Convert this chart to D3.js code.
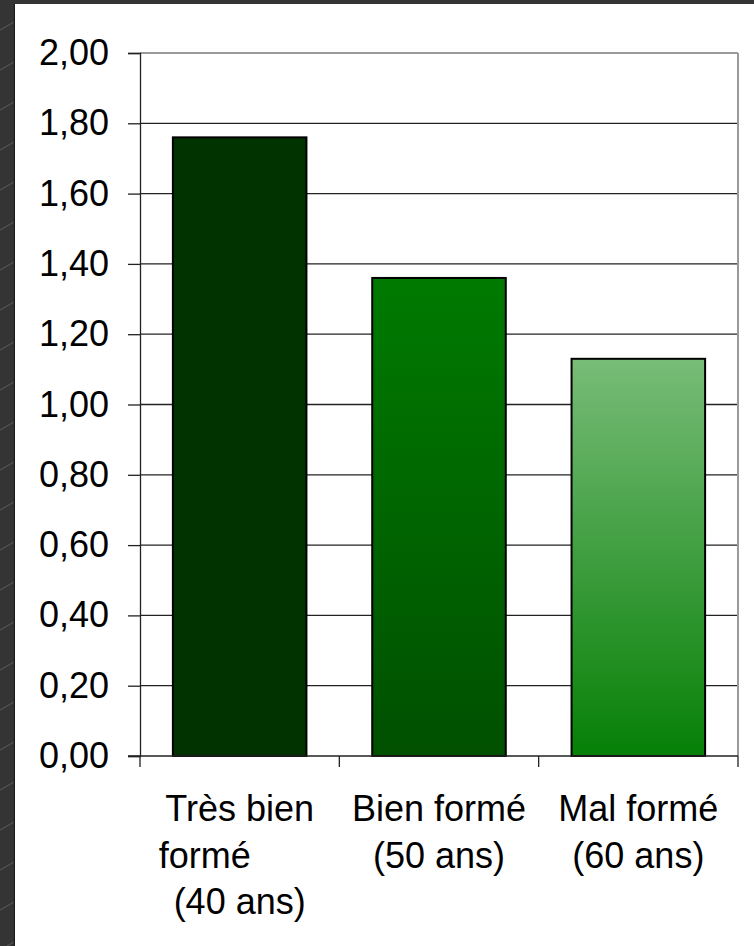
<!DOCTYPE html>
<html>
<head>
<meta charset="utf-8">
<script src="https://cdn.jsdelivr.net/npm/d3@7"></script>
<style>
  html, body { margin: 0; padding: 0; background: #333; }
  svg { display: block; }
  text { font-family: "Liberation Sans", Arial, sans-serif; fill: #000; }
</style>
</head>
<body>
<div id="chart"></div>
<script>
// data
const categories = ['Très bien formé (40 ans)', 'Bien formé (50 ans)', 'Mal formé (60 ans)']
const labelLines = [
  ['Très bien', 'formé\u00a0\u00a0\u00a0\u00a0\u00a0\u00a0\u00a0', '(40 ans)'],
  ['Bien formé', '(50 ans)'],
  ['Mal formé', '(60 ans)']
]
const values = [1.76, 1.36, 1.13]
const yTicks = [0, 0.2, 0.4, 0.6, 0.8, 1.0, 1.2, 1.4, 1.6, 1.8, 2.0]
const barTop = ['#003300', '#007a00', '#78bc78']
const barBottom = ['#003300', '#005000', '#068006']

const W = 754, H = 946
const margin = { top: 53, right: 16, bottom: 190, left: 140 }
const width = W - margin.left - margin.right,
  height = H - margin.top - margin.bottom

const root = d3.select('#chart').append('svg')
  .attr('width', W)
  .attr('height', H)

// slide background with diagonal streaks
const defs = root.append('defs')
const pat = defs.append('pattern')
  .attr('id', 'streaks')
  .attr('patternUnits', 'userSpaceOnUse')
  .attr('width', 40)
  .attr('height', 40)
pat.append('rect').attr('width', 40).attr('height', 40).attr('fill', '#343434')
pat.append('line')
  .attr('x1', 0).attr('y1', 30).attr('x2', 14).attr('y2', 22)
  .attr('stroke', '#5a5a5a').attr('stroke-width', 1)

root.append('rect').attr('width', W).attr('height', H).attr('fill', 'url(#streaks)')
root.append('line')
  .attr('x1', 14.5).attr('x2', 14.5).attr('y1', 4).attr('y2', H)
  .attr('stroke', '#1c1c1c').attr('stroke-width', 1.5)
root.append('rect')
  .attr('x', 15).attr('y', 4)
  .attr('width', W - 15).attr('height', H - 4)
  .attr('fill', '#fff')

categories.forEach((c, i) => {
  const g = defs.append('linearGradient')
    .attr('id', 'grad' + i)
    .attr('x1', 0).attr('y1', 0).attr('x2', 0).attr('y2', 1)
  g.append('stop').attr('offset', '0%').attr('stop-color', barTop[i])
  g.append('stop').attr('offset', '100%').attr('stop-color', barBottom[i])
})

const svg = root.append('g')
  .attr('transform', `translate(${margin.left}, ${margin.top})`)

const x = d3.scaleBand()
  .domain(categories)
  .range([0, width])
  .paddingInner(0.33)
  .paddingOuter(0.165)

const y = d3.scaleLinear().domain([0, 2]).range([height, 0])

// gridlines
svg.selectAll('line.grid')
  .data(yTicks.filter(t => t > 0))
  .join('line')
  .attr('class', 'grid')
  .attr('x1', 0)
  .attr('x2', width)
  .attr('y1', d => y(d))
  .attr('y2', d => y(d))
  .attr('stroke', d => d === 2 ? '#9a9a9a' : '#222')
  .attr('stroke-width', d => d === 2 ? 2 : 1.3)

// right border of plot area
svg.append('line')
  .attr('x1', width).attr('x2', width)
  .attr('y1', y(2)).attr('y2', height)
  .attr('stroke', '#9a9a9a').attr('stroke-width', 2)

// bars
svg.selectAll('rect.bar')
  .data(values)
  .join('rect')
  .attr('class', 'bar')
  .attr('x', (d, i) => x(categories[i]))
  .attr('width', x.bandwidth())
  .attr('y', d => y(d))
  .attr('height', d => height - y(d))
  .attr('fill', (d, i) => `url(#grad${i})`)
  .attr('stroke', '#000')
  .attr('stroke-width', 2)

// y axis
const yAxis = svg.append('g')
  .call(d3.axisLeft(y).tickValues(yTicks).tickSize(12).tickPadding(19)
    .tickFormat(d => d3.format('.2f')(d).replace('.', ',')))
yAxis.select('.domain').attr('stroke', '#222').attr('stroke-width', 1.3)
yAxis.selectAll('.tick line').attr('stroke', '#222').attr('stroke-width', 1.3)
yAxis.selectAll('.tick text')
  .style('font-size', '36px')
  .attr('fill', '#000')

// x axis
const bandEdges = categories.map(c => x(c) - x.step() * x.paddingInner() / 2).concat([width])
const xAxis = svg.append('g').attr('transform', `translate(0, ${height})`)
xAxis.append('line')
  .attr('x1', -12).attr('x2', width)
  .attr('stroke', '#222').attr('stroke-width', 1.3)
xAxis.selectAll('line.xtick')
  .data(bandEdges)
  .join('line')
  .attr('class', 'xtick')
  .attr('x1', d => d).attr('x2', d => d)
  .attr('y1', 0).attr('y2', 11)
  .attr('stroke', '#222').attr('stroke-width', 1.3)

const labels = xAxis.selectAll('text.xlab')
  .data(categories)
  .join('text')
  .attr('class', 'xlab')
  .attr('text-anchor', 'middle')
  .attr('transform', d => `translate(${x(d) + x.bandwidth() / 2}, 65)`)
  .style('font-size', '36px')
  .style('white-space', 'pre')

labels.selectAll('tspan')
  .data((d, i) => labelLines[i])
  .join('tspan')
  .attr('x', 0)
  .attr('dy', (d, i) => i === 0 ? 0 : 46.5)
  .text(d => d)
</script>
</body>
</html>
